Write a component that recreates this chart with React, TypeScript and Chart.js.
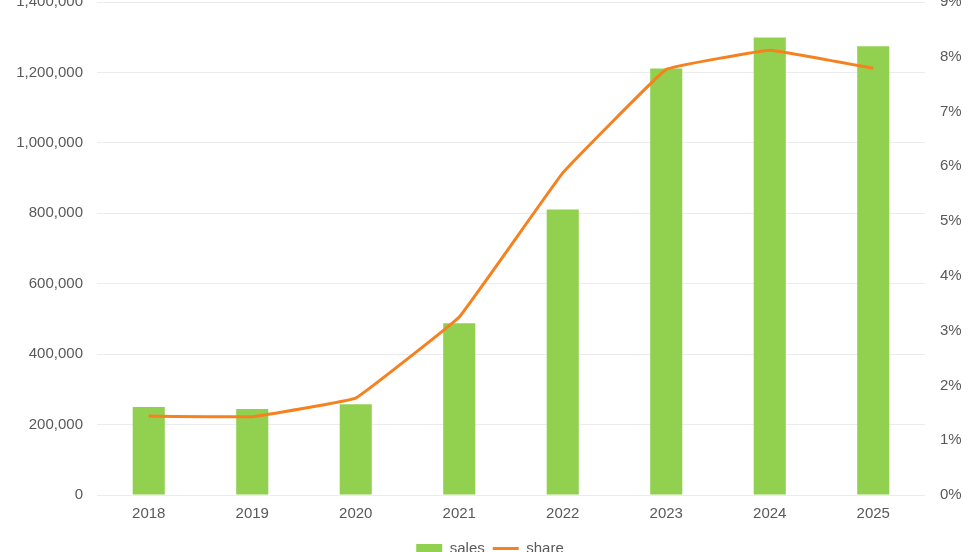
import React, { useEffect, useRef } from 'react';
import { Chart, ChartConfiguration, registerables } from 'chart.js';

Chart.register(...registerables);

const years = ['2018', '2019', '2020', '2021', '2022', '2023', '2024', '2025'];
const sales = [250000, 244000, 258000, 488000, 811000, 1211000, 1299000, 1274000];
const share = [1.44, 1.43, 1.77, 3.25, 5.88, 7.77, 8.12, 7.79];

const TEXT = '#595959';
const FONT = 'Liberation Sans, Arial, Helvetica, sans-serif';

const SalesShareChart: React.FC = () => {
    const canvasRef = useRef<HTMLCanvasElement>(null);
    const chartRef = useRef<Chart | null>(null);

    useEffect(() => {
        if (!canvasRef.current) return;
        if (chartRef.current) chartRef.current.destroy();

        const ctx = canvasRef.current.getContext('2d');
        if (!ctx) return;

        const config: ChartConfiguration = {
            type: 'bar',
            data: {
                labels: years,
                datasets: [
                    {
                        type: 'bar',
                        label: 'sales',
                        data: sales,
                        backgroundColor: '#92d050',
                        barPercentage: 0.31,
                        categoryPercentage: 1,
                        yAxisID: 'y',
                        order: 1,
                        pointStyle: 'rect',
                    } as any,
                    {
                        type: 'line',
                        label: 'share',
                        data: share,
                        borderColor: '#f5821f',
                        backgroundColor: '#f5821f',
                        borderWidth: 3,
                        pointRadius: 0,
                        tension: 0.06,
                        yAxisID: 'y1',
                        order: 0,
                        pointStyle: 'line',
                    } as any,
                ],
            },
            options: {
                responsive: true,
                maintainAspectRatio: false,
                animation: false,
                layout: { padding: 0 },
                plugins: {
                    legend: {
                        position: 'bottom',
                        labels: {
                            usePointStyle: true,
                            pointStyleWidth: 26,
                            boxHeight: 9,
                            padding: 8,
                            color: TEXT,
                            font: { size: 15, family: FONT },
                            sort: (a, b) => (a.datasetIndex ?? 0) - (b.datasetIndex ?? 0),
                        },
                    },
                    tooltip: { enabled: false },
                },
                scales: {
                    x: {
                        grid: { display: false, drawTicks: false },
                        border: { display: false },
                        ticks: { color: TEXT, padding: 10, font: { size: 15, family: FONT } },
                    },
                    y: {
                        position: 'left',
                        min: 0,
                        max: 1400000,
                        grid: { color: '#ececec', drawTicks: false },
                        border: { display: false },
                        ticks: {
                            stepSize: 200000,
                            color: TEXT,
                            padding: 14,
                            font: { size: 15, family: FONT },
                            callback: (v) => Number(v).toLocaleString('en-US'),
                        },
                        afterFit: (scale) => { scale.width = 97; },
                    },
                    y1: {
                        position: 'right',
                        min: 0,
                        max: 9,
                        grid: { display: false, drawTicks: false },
                        border: { display: false },
                        ticks: {
                            stepSize: 1,
                            color: TEXT,
                            padding: 15,
                            font: { size: 15, family: FONT },
                            callback: (v) => `${v}%`,
                        },
                        afterFit: (scale) => { scale.width = 55; },
                    },
                },
            },
        };

        chartRef.current = new Chart(ctx, config);

        return () => {
            if (chartRef.current) {
                chartRef.current.destroy();
                chartRef.current = null;
            }
        };
    }, []);

    return <canvas ref={canvasRef} />;
};

export default function App() {
    return (
        <div style={{ position: 'fixed', left: 0, top: 0, width: 980, height: 552, overflow: 'hidden', background: '#fff' }}>
            <div style={{ position: 'absolute', left: 0, top: -22, width: 980, height: 588 }}>
                <SalesShareChart />
            </div>
        </div>
    );
}
